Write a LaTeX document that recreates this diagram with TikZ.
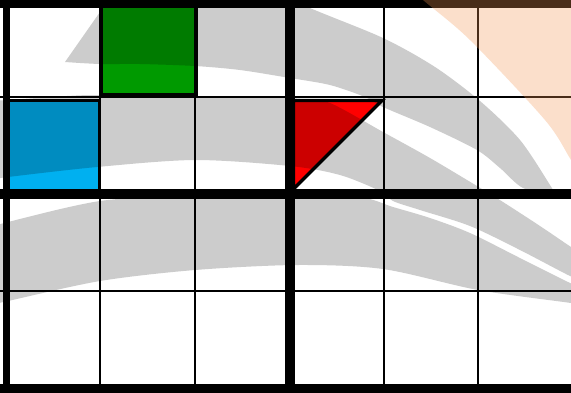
\documentclass[tikz,border=0pt]{standalone}
\usepackage{xcolor}
\usepackage{tikz}
\definecolor{swooshgray}{HTML}{CCCCCC}
\definecolor{peachtone}{HTML}{F29855}
\definecolor{tilegreen}{HTML}{009A00}
\definecolor{tileblue}{HTML}{00B0F0}
\definecolor{tilered}{HTML}{FF0000}
\tikzset{
every picture/.style={line join=miter},
swoosh/.style={fill=swooshgray},
grid thick/.style={draw=black, line width=9pt},
grid thin/.style={draw=black, line width=1.4pt},
tile/.style={draw=black, line width=3.2pt, blend mode=multiply},
peach glow/.style={fill=peachtone, fill opacity=0.3}
}

\begin{document}
\begin{tikzpicture}[x=1pt,y=-1pt]
\useasboundingbox (0,0) rectangle (571,392);
\fill[white] (0,0) rectangle (571,392);
\begin{scope}
\clip (0,0) rectangle (571,392);
\fill[swoosh] (65,62) -- (100,12) -- (125,-20) -- (250,-20)
  -- plot[smooth] coordinates {(250,-20) (310,8) (383,38) (435,67) (480,101) (520,140) (550,185) (556,196)}
  -- plot[smooth] coordinates {(556,196) (523,188) (500,168) (477,150) (430,127) (383,107) (365,97) (330,85) (290,78) (240,70) (195,66) (140,64) (100,64) (65,62)} -- cycle;
\fill[swoosh] plot[smooth] coordinates {(-10,101) (8,100) (67,96) (100,95) (195,96) (260,97) (300,99) (330,103) (383,132) (430,158) (477,186) (503,202) (540,226) (571,247) (585,256)}
  -- plot[smooth] coordinates {(585,282) (568,275) (520,250) (470,226) (420,210) (393,201) (380,191) (340,175) (290,166) (195,160) (97,167) (8,177) (-10,180)} -- cycle;
\fill[swoosh] plot[smooth] coordinates {(-10,228) (8,222) (100,201) (195,195) (290,193) (360,197) (393,207) (430,218) (470,233) (520,258) (568,282) (585,290)}
  -- plot[smooth] coordinates {(585,306) (571,303) (478,290) (383,269) (297,265) (195,270) (100,281) (8,301) (-10,305)} -- cycle;
\foreach \x in {100,195,384,478} {
\draw[grid thin] (\x,0) -- (\x,392);
}
\foreach \y in {97,291} {
\draw[grid thin] (0,\y) -- (575,\y);
}
\draw[grid thick, line width=7pt] (6.5,0) -- (6.5,392);
\draw[grid thick, line width=9.5pt] (290,0) -- (290,392);
\draw[grid thick, line width=8pt] (0,4) -- (575,4);
\draw[grid thick, line width=9.5pt] (0,194) -- (575,194);
\draw[grid thick] (0,388) -- (575,388);
\filldraw[tile, fill=tilegreen] (101,6) rectangle (196,95);
\filldraw[tile, fill=tileblue, line width=2.6pt] (8.5,100.5) rectangle (99.5,190);
\filldraw[tile, fill=tilered] (293.5,100.5) -- (382,100.5) -- (293.5,189) -- cycle;
\fill[peach glow] plot[smooth] coordinates {(395,-25) (423,0) (470,40) (545,120) (571,160) (595,200)} -- (610,200) -- (610,-25) -- cycle;
\end{scope}
\end{tikzpicture}
\end{document}
